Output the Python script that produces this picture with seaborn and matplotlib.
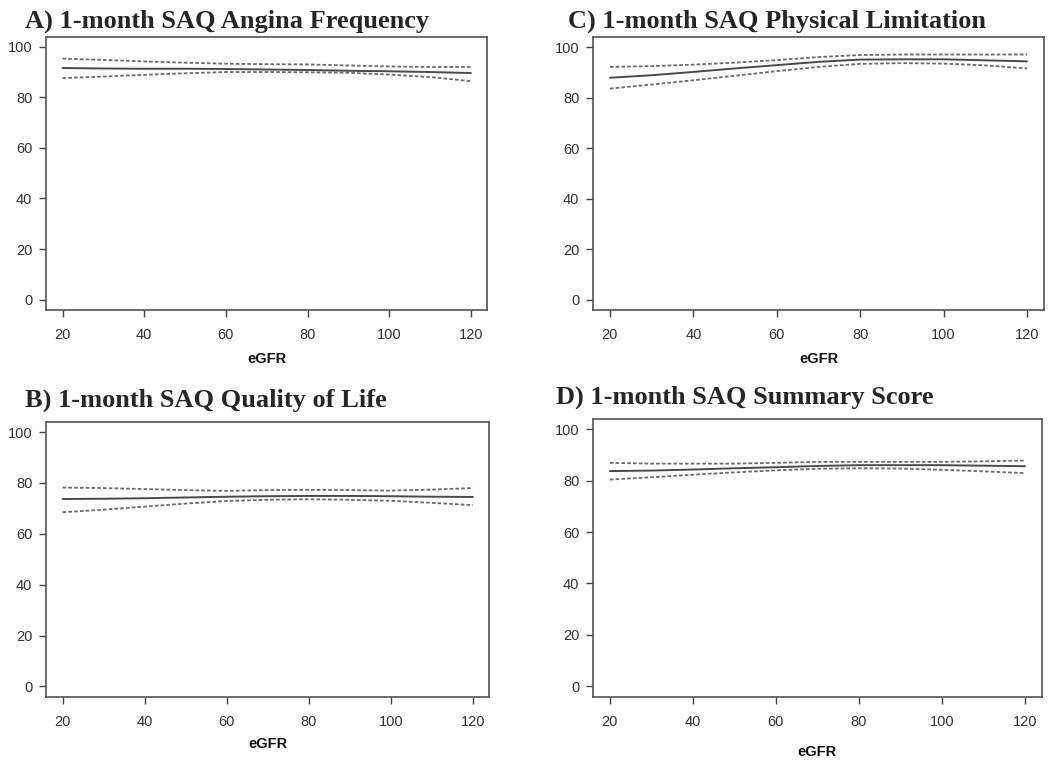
import matplotlib
matplotlib.use("Agg")
import matplotlib.pyplot as plt
import seaborn as sns
import pandas as pd

# eGFR grid that the curves were read at
egfr = [20, 30, 40, 50, 60, 70, 80, 90, 100, 110, 120]

# A) Angina Frequency
af_est = [91.6, 91.4, 91.3, 91.3, 91.2, 91.0, 90.8, 90.5, 90.3, 90.0, 89.6]
af_hi = [95.3, 94.8, 94.2, 93.7, 93.3, 93.1, 93.0, 92.6, 92.2, 92.0, 92.0]
af_lo = [87.6, 88.2, 88.9, 89.5, 90.0, 90.0, 89.9, 89.7, 89.0, 88.0, 86.4]

# C) Physical Limitation
pl_est = [88.0, 89.0, 90.3, 91.7, 93.0, 94.3, 95.2, 95.3, 95.3, 94.9, 94.5]
pl_hi = [92.3, 92.6, 93.2, 94.0, 95.0, 96.2, 97.0, 97.2, 97.2, 97.2, 97.2]
pl_lo = [83.7, 85.3, 87.0, 88.8, 90.6, 92.3, 93.5, 93.8, 93.6, 92.9, 91.7]

# B) Quality of Life
ql_est = [73.7, 73.8, 74.0, 74.3, 74.6, 74.8, 74.9, 74.9, 74.8, 74.6, 74.5]
ql_hi = [78.2, 78.0, 77.6, 77.2, 76.9, 77.2, 77.3, 77.2, 77.0, 77.4, 78.0]
ql_lo = [68.5, 69.5, 70.7, 71.9, 72.9, 73.4, 73.6, 73.4, 73.0, 72.2, 71.3]

# D) Summary Score
ss_est = [83.7, 83.9, 84.3, 84.8, 85.2, 85.7, 86.0, 86.0, 86.0, 85.8, 85.6]
ss_hi = [86.9, 86.6, 86.6, 86.6, 86.9, 87.3, 87.3, 87.3, 87.3, 87.5, 87.8]
ss_lo = [80.4, 81.3, 82.3, 83.2, 84.0, 84.6, 84.8, 84.7, 84.2, 83.6, 82.9]

titles = ["A) 1-month SAQ Angina Frequency", "C) 1-month SAQ Physical Limitation",
          "B) 1-month SAQ Quality of Life", "D) 1-month SAQ Summary Score"]
x_ticks = [20, 40, 60, 80, 100, 120]
y_ticks = [0, 20, 40, 60, 80, 100]

sns.set_style("ticks")
plt.rcParams["font.family"] = ["Liberation Sans", "DejaVu Sans"]

fig = plt.figure(figsize=(10.5, 7.63), dpi=100)

# axes boxes in figure fractions (left, bottom, width, height)
boxes = [
    (0.044, 0.594, 0.420, 0.358),
    (0.565, 0.594, 0.429, 0.357),
    (0.044, 0.087, 0.422, 0.360),
    (0.565, 0.087, 0.427, 0.364),
]
title_pos = [(0.024, 0.987), (0.541, 0.987), (0.024, 0.491), (0.530, 0.494)]
xlabel_pad = [7, 7, 6, 12]

panels = [(af_est, af_hi, af_lo), (pl_est, pl_hi, pl_lo),
          (ql_est, ql_hi, ql_lo), (ss_est, ss_hi, ss_lo)]

for i, (est, hi, lo) in enumerate(panels):
    ax = fig.add_axes(boxes[i])
    df = pd.DataFrame({"eGFR": egfr, "est": est, "hi": hi, "lo": lo})
    sns.lineplot(data=df, x="eGFR", y="hi", ax=ax, color="#6a6a6a", lw=1.3,
                 linestyle=(0, (2.0, 1.2)))
    sns.lineplot(data=df, x="eGFR", y="lo", ax=ax, color="#6a6a6a", lw=1.3,
                 linestyle=(0, (2.0, 1.2)))
    sns.lineplot(data=df, x="eGFR", y="est", ax=ax, color="#4a4a4a", lw=1.4)

    ax.set_xlim(16, 124)
    ax.set_ylim(-4, 104)
    ax.set_xticks(x_ticks)
    ax.set_yticks(y_ticks)
    ax.tick_params(axis="both", direction="out", length=5, width=1.0,
                   colors="#444444", labelsize=10.5, labelcolor="#333333")
    ax.tick_params(axis="x", pad=8)
    ax.tick_params(axis="y", pad=5)
    for s in ax.spines.values():
        s.set_visible(True)
        s.set_color("#555555")
        s.set_linewidth(1.2)
    ax.set_ylabel("")
    ax.set_xlabel("eGFR", fontsize=10.5, fontweight="bold", color="#111111",
                  labelpad=xlabel_pad[i])

    fig.text(title_pos[i][0], title_pos[i][1], titles[i], ha="left", va="top",
             fontsize=19, fontweight="bold", family=["Liberation Serif", "DejaVu Serif"])

fig.savefig("out.png", dpi=100, facecolor="white")
